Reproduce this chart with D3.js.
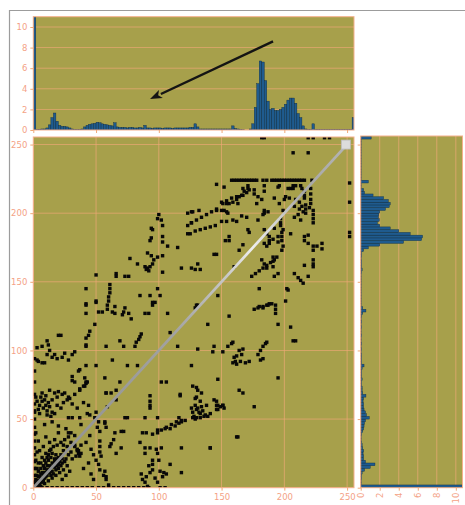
<!DOCTYPE html>
<html>
<head>
<meta charset="utf-8">
<script src="https://cdn.jsdelivr.net/npm/d3@7"></script>
<style>
  body { margin: 0; background: #fff; }
  svg { display: block; }
  text { font-family: "DejaVu Sans", sans-serif; }
</style>
</head>
<body>
<div id="chart"></div>
<script>
// marginal histograms, bins of width 2 (0-1, 2-3, ... 254-255)
const binWidth = 2;
const topHist = [
  11, 0.05, 0.05, 0.1, 0.1, 0.2, 0.5, 1.2, 1.65, 0.85, 0.45, 0.35, 0.35, 0.3, 0.2, 0.1,
  0.05, 0.05, 0.05, 0.1, 0.3, 0.45, 0.55, 0.6, 0.65, 0.75, 0.7, 0.6, 0.55, 0.5, 0.45, 0.4,
  0.7, 0.3, 0.25, 0.25, 0.25, 0.2, 0.25, 0.25, 0.2, 0.2, 0.25, 0.2, 0.45, 0.2, 0.2, 0.15,
  0.2, 0.2, 0.2, 0.15, 0.2, 0.2, 0.2, 0.15, 0.2, 0.2, 0.2, 0.2, 0.2, 0.2, 0.25, 0.25,
  0.6, 0.3, 0.1, 0.1, 0.1, 0.1, 0.1, 0.1, 0.1, 0.1, 0.1, 0.1, 0.1, 0.1, 0.1, 0.4,
  0.15, 0.1, 0.05, 0.02, 0, 0, 0.1, 0.6, 2.2, 4.5, 6.7, 6.6, 4.8, 2.8, 2.0, 2.1,
  1.9, 1.9, 2.0, 2.2, 2.5, 2.9, 3.1, 3.1, 2.6, 1.6, 1.2, 0.4, 0.1, 0.05, 0.05, 0.6,
  0.05, 0.05, 0.05, 0.05, 0.05, 0.05, 0.05, 0.05, 0.05, 0.05, 0.05, 0.05, 0.05, 0.05, 0.05, 1.2
];
const sideHist = [
  11, 0.05, 0.05, 0.1, 0.1, 0.15, 0.4, 1.0, 1.5, 0.5, 0.3, 0.3, 0.25, 0.3, 0.2, 0.15,
  0.1, 0.05, 0.05, 0.1, 0.2, 0.3, 0.35, 0.4, 0.5, 0.9, 0.6, 0.5, 0.35, 0.3, 0.3, 0.25,
  0.3, 0.55, 0.2, 0.15, 0.15, 0.1, 0.1, 0.15, 0.1, 0.1, 0.1, 0.15, 0.35, 0.1, 0.1, 0.1,
  0.1, 0.05, 0.1, 0.05, 0.1, 0.05, 0.05, 0.1, 0.05, 0.05, 0.1, 0.05, 0.1, 0.05, 0.1, 0.2,
  0.55, 0.2, 0.05, 0.05, 0.05, 0.05, 0.05, 0.05, 0.05, 0.05, 0.05, 0.05, 0.05, 0.05, 0.1, 0.15,
  0.1, 0.1, 0.1, 0.05, 0.1, 0.1, 0.3, 0.8, 2.0, 4.5, 6.4, 6.5, 5.2, 4.0, 3.1, 2.0,
  1.75, 1.95, 1.85, 1.9, 2.0, 2.6, 3.0, 3.1, 2.9, 2.4, 1.3, 0.4, 0.3, 0.05, 0.05, 0.8,
  0.05, 0.05, 0.05, 0.05, 0.05, 0.05, 0.05, 0.05, 0.05, 0.05, 0.05, 0.05, 0.05, 0.05, 0.05, 1.1
];

const mainTicks = [0, 50, 100, 150, 200, 250];
const histTicks = [0, 2, 4, 6, 8, 10];

const diagonal = [[0, 0], [249, 249]];
const endMarker = [249, 250];
const arrowFrom = [191, 8.6];
const arrowTo = [93, 3.0];

// scatter points, grouped by the area of the plot they sit in
const originCluster = [
  [1,1],[2,3],[3,2],[4,5],[5,3],[6,6],[5,8],[7,4],[8,9],[9,7],[10,11],[11,9],[12,13],[13,11],[14,15],[15,12],
  [16,17],[17,15],[18,19],[19,16],[3,9],[4,12],[6,14],[8,16],[10,18],[12,20],[14,22],[6,1],[9,3],[12,5],[15,7],
  [18,9],[21,11],[24,13],[2,6],[7,11],[9,14],[11,16],[16,10],[20,14],[22,16],[25,19],[20,22],[22,24],[26,21],
  [28,24],[30,26],[24,27],[18,24],[27,30],[30,33],[33,30],[35,28],[36,25],[34,23],[31,21],[38,31],[4,18],[7,22],
  [3,26],[10,25],[14,28],[16,30],[19,31],[22,33],[25,35],[17,35],[13,33],[28,37],[20,40],[30,40],[33,38],[26,43],
  [10,37],[4,34],[2,40],[28,40],[33,31],[36,27],[38,25],[37,23],[27,16],[29,12],[23,6],[26,9],[1,14],[2,20],
  [5,27],[8,30],[12,24],[17,21],[24,31],[35,27],[1,4],[3,5],[5,1],[7,7],[9,11],[11,13],[13,16],[15,18],[17,19],
  [19,21],[21,19],[23,21],[8,5],[10,8],[14,9],[18,13],[20,17],[23,18],[6,10],[4,8],[3,14],[6,18],[9,20],[11,22],
  [15,25],[13,27]
];
const leftColumn = [
  [1,4],[1,9],[1,14],[1,19],[1,24],[1,29],[1,34],[1,39],[1,44],[1,50],[1,56],[1,61],[1,68],[1,77],[1,85],[1,94]
];
const bottomRow = [
  [3,0],[7,0],[11,0],[15,0],[19,0],[23,0],[27,0],[31,0],[35,0],[39,0],[43,0],[47,0],[52,0],[56,0],[60,0],
  [64,0],[68,0],[72,0],[76,0],[80,0],[84,0],[88,0],[92,0],[101,0],[105,0]
];
const lowerLeft = [
  [3,63],[7,63],[9,64],[12,62],[13,59],[8,58],[4,57],[1,55],[5,54],[11,53],[15,55],[17,54],[13,71],[17,69],
  [20,70],[23,68],[25,69],[28,66],[27,64],[29,65],[31,61],[33,68],[37,71],[40,74],[42,76],[43,77],[44,60],
  [43,54],[45,53],[28,51],[31,51],[37,51],[49,51],[52,48],[51,44],[53,41],[58,69],[62,69],[57,47],[58,44],
  [65,40],[64,35],[61,30],[53,34],[53,30],[53,26],[54,23],[50,20],[52,17],[53,13],[56,9],[58,6],[60,2],
  [57,12],[58,8],[66,64],[59,59],[50,55],[57,48],[66,25],[62,32],[6,66],[10,67],[19,60],[22,58],[24,62],
  [15,48],[20,45],[9,46],[40,62],[35,58],[38,46],[45,38],[42,33],[46,28],[48,24],[44,18],[40,14],[46,10],[48,6],
  [5,60],[10,60],[15,64],[19,66],[2,66],[7,69],[11,56],[14,52]
];
const middleLeft = [
  [42,133],[42,127],[50,135],[52,128],[55,128],[59,130],[63,128],[65,127],[60,136],[73,131],[72,128],[71,126],
  [76,127],[78,123],[89,127],[92,127],[95,133],[97,135],[107,127],[49,119],[45,114],[44,111],[42,109],[22,111],
  [20,111],[42,104],[42,103],[58,103],[69,107],[72,103],[81,103],[84,108],[85,110],[86,112],[82,106],[109,113],
  [115,103],[11,107],[12,104],[7,103],[13,100],[3,102],[3,93],[4,92],[7,91],[9,91],[11,97],[15,95],[17,97],
  [19,94],[23,95],[28,93],[31,97],[33,99],[25,98],[50,89],[63,93],[42,89],[75,89],[83,89],[37,86],[36,85],
  [31,81],[31,78],[33,77],[41,80],[42,77],[41,74],[37,72],[57,80],[69,77],[58,69],[66,71],[102,77],[106,77],[117,68]
];
const upperMiddle = [
  [100,199],[99,196],[102,195],[103,191],[94,189],[95,188],[94,182],[93,180],[103,183],[103,179],[107,176],
  [115,175],[91,171],[94,169],[103,169],[96,166],[99,168],[77,167],[83,163],[89,161],[91,160],[93,161],[95,163],
  [103,157],[118,160],[126,160],[126,201],[123,191],[123,185],[126,193],[50,155],[66,156],[66,154],[73,154],
  [76,154],[42,145],[61,148],[61,145],[61,142],[60,139],[59,133],[50,136],[42,134],[85,140],[93,140],[95,135],
  [99,145],[101,140],[65,132],[90,159],[92,158]
];
const lowerMiddle = [
  [93,67],[93,63],[93,60],[93,58],[117,67],[73,51],[75,51],[89,51],[99,51],[116,51],[118,48],[70,41],[72,41],
  [95,39],[99,40],[102,42],[105,43],[109,43],[113,45],[116,47],[85,33],[70,29],[89,29],[89,25],[93,29],[98,28],
  [99,25],[102,29],[118,29],[141,29],[162,37],[95,20],[95,17],[95,13],[93,11],[90,8],[89,4],[91,1],[101,12],
  [103,8],[106,10],[104,11],[109,17],[118,11],[97,7],[87,6],[92,16],[86,10],[99,4],[100,20],
  [127,74],[131,71],[130,66],[129,60],[130,57],[133,54],[137,53],[141,54],[134,59],[138,60],[144,64],[146,60],
  [149,59],[151,60],[147,57],[114,48],[118,49],[106,44],[110,46],[99,42],[90,40],[87,40]
];
const rightMiddle = [
  [130,133],[129,131],[176,130],[180,132],[183,131],[186,133],[188,134],[193,133],[193,130],[193,127],[201,136],
  [156,125],[139,119],[195,119],[205,117],[207,107],[209,107],[131,101],[144,103],[143,99],[151,99],[155,103],
  [158,105],[159,106],[160,95],[162,96],[161,92],[159,91],[162,90],[165,92],[166,97],[164,100],[167,101],
  [169,91],[172,92],[179,97],[181,100],[183,103],[185,105],[186,106],[181,93],[183,94],[126,89],[147,79],
  [195,80],[130,73],[134,69],[164,71],[167,69],[129,65],[133,63],[146,63],[147,60],[151,60],[152,58],[146,57],
  [126,58],[127,55],[128,52],[130,51],[133,51],[136,52],[139,52],[127,51],[129,50],[132,55],[135,56],[131,58],
  [176,59],[163,37],[141,29],[121,49]
];
const topRow = [
  [182,255],[184,255],[219,255],[223,255],[232,255],[236,255],[207,244],[219,244]
];
const upperBand = [
  [158,224],[160,224],[162,224],[164,224],[166,224],[168,224],[170,224],[172,224],[174,224],[176,224],[178,224],
  [183,224],[186,224],[190,224],[192,224],[194,224],[196,224],[198,224],[200,224],[202,224],[204,224],[206,224],
  [208,224],[210,224],[212,224],[214,224],[216,224],[222,224],
  [146,221],[152,219],[171,220],[184,220],[196,220],[207,220],[209,220],[213,220],[168,216],[171,218],[176,217],
  [184,216],[167,218],[195,219],[203,218],[205,218],[214,218],[221,218]
];
const upperRight = [
  [156,207],[159,208],[162,210],[164,212],[167,213],[170,215],[172,217],[150,208],[154,209],[158,211],[162,212],
  [166,213],[126,193],[130,195],[134,197],[138,199],[142,201],[146,203],[151,207],[154,207],[163,207],[150,202],
  [154,201],[155,200],[146,202],[125,185],[129,187],[133,188],[137,189],[141,190],[145,191],[123,200],[127,201],
  [132,202],[176,214],[179,212],[182,210],[192,211],[196,207],[201,212],[204,211],[209,210],[212,208],[214,205],
  [216,216],[216,213],[216,211],[221,214],[221,210],[221,207],[217,206],[217,203],[217,200],[223,202],[223,199],
  [223,196],[223,193],[184,202],[184,200],[187,201],[183,199],[179,195],[150,194],[154,194],[159,195],[162,194],
  [171,188],[172,186],[197,196],[197,193],[197,191],[198,186],[198,183],[198,180],[199,188],[192,189],[208,197],
  [213,195],[211,199],[156,183],[156,180],[153,180],[188,183],[188,180],[188,178],[191,181],[195,179],[184,178],
  [186,176],[167,177],[164,173],[198,173],[199,176],[216,183],[216,180],[219,184],[223,176],[223,173],[230,178],
  [182,166],[184,163],[191,168],[191,165],[191,161],[194,168],[186,160],[216,162],[223,166],[223,163],[223,161],
  [146,170],[144,170],[131,163],[133,159],[129,159],[160,161],[174,154],[177,156],[180,158],[183,160],[186,162],
  [189,164],[192,166],[192,154],[195,156],[208,156],[211,153],[213,151],[215,149],[219,154],[202,145],[203,144],
  [180,145],[179,131],[183,132],[187,133],[190,134],[147,140],[131,133],[252,222],[252,208],[252,186],[252,183],
  [230,174],[226,176],[219,178],[166,198],[170,197],[178,207],[195,183],[152,202],[205,185],[200,210],[207,218],
  [184,188],[186,185],[199,202],[208,205],[212,203],[215,201],[220,204]
];

const points = [].concat(originCluster, leftColumn, bottomRow, lowerLeft, middleLeft, upperMiddle,
  lowerMiddle, rightMiddle, topRow, upperBand, upperRight);

const W = 465, H = 505;
const olive = "#a7a04b";
const gridColor = "#f0a878";
const labelColor = "#f4a286";
const barFill = "#1f5b8e";
const barStroke = "#0c2b48";

const svg = d3.select("#chart").append("svg").attr("width", W).attr("height", H);
const defs = svg.append("defs");

// scales
const x = d3.scaleLinear().domain([0, 255.5]).range([33.3, 354]);
const y = d3.scaleLinear().domain([0, 255.5]).range([487.7, 137]);
const topY = d3.scaleLinear().domain([0, 11]).range([130, 16.7]);
const sideX = d3.scaleLinear().domain([0, 10.7]).range([360.7, 462.5]);

// figure frame
svg.append("path")
  .attr("d", "M9.5,505 V10.5 H465")
  .attr("fill", "none").attr("stroke", "#9c9c9c").attr("stroke-width", 1.2);

function panel(id, x0, y0, x1, y1) {
  defs.append("clipPath").attr("id", id)
    .append("rect").attr("x", x0).attr("y", y0).attr("width", x1 - x0).attr("height", y1 - y0);
  svg.append("rect").attr("x", x0).attr("y", y0).attr("width", x1 - x0).attr("height", y1 - y0)
    .attr("fill", olive);
  return svg.append("g").attr("clip-path", "url(#" + id + ")");
}
function border(x0, y0, x1, y1) {
  svg.append("rect").attr("x", x0).attr("y", y0).attr("width", x1 - x0).attr("height", y1 - y0)
    .attr("fill", "none").attr("stroke", "#f6b08c").attr("stroke-width", 1);
}
function styleAxis(g) {
  g.select(".domain").remove();
  g.selectAll(".tick line").attr("stroke", gridColor);
  g.selectAll(".tick text").attr("fill", labelColor).style("font-size", "8.5px");
}

// ---- top histogram
const topG = panel("clipTop", x(0), topY(11), x(255.5), topY(0));
topG.selectAll("line.grid").data(histTicks).join("line")
  .attr("x1", x(0)).attr("x2", x(255.5)).attr("y1", d => topY(d)).attr("y2", d => topY(d))
  .attr("stroke", gridColor).attr("stroke-width", 0.8).attr("opacity", 0.85);
topG.selectAll("rect.bar").data(topHist).join("rect")
  .attr("x", (d, i) => x(i * binWidth))
  .attr("width", (d, i) => x((i + 1) * binWidth) - x(i * binWidth))
  .attr("y", d => topY(d))
  .attr("height", d => topY(0) - topY(d))
  .attr("fill", barFill).attr("stroke", barStroke).attr("stroke-width", 0.4);

// arrow annotation
const ax0 = x(arrowFrom[0]), ay0 = topY(arrowFrom[1]);
const ax1 = x(arrowTo[0]), ay1 = topY(arrowTo[1]);
const ang = Math.atan2(ay1 - ay0, ax1 - ax0);
const headLen = 12, headW = 4.5;
const bx = ax1 - headLen * Math.cos(ang), by = ay1 - headLen * Math.sin(ang);
svg.append("line").attr("x1", ax0).attr("y1", ay0).attr("x2", bx).attr("y2", by)
  .attr("stroke", "#141414").attr("stroke-width", 2.4);
svg.append("path")
  .attr("d", d3.line()([
    [ax1, ay1],
    [bx + headW * Math.sin(ang), by - headW * Math.cos(ang)],
    [bx + 3 * Math.cos(ang), by + 3 * Math.sin(ang)],
    [bx - headW * Math.sin(ang), by + headW * Math.cos(ang)]
  ]) + "Z")
  .attr("fill", "#141414");
border(x(0), topY(11), x(255.5), topY(0));

svg.append("g").attr("transform", "translate(" + x(0) + ",0)")
  .call(d3.axisLeft(topY).tickValues(histTicks).tickSize(3))
  .call(styleAxis);
svg.append("g").attr("transform", "translate(0," + topY(0) + ")")
  .call(d3.axisBottom(x).tickValues(mainTicks).tickSize(3).tickFormat(""))
  .call(styleAxis);

// ---- main scatter
const mainG = panel("clipMain", x(0), y(255.5), x(255.5), y(0));
mainG.selectAll("line.gx").data(mainTicks).join("line")
  .attr("x1", d => x(d)).attr("x2", d => x(d)).attr("y1", y(0)).attr("y2", y(255.5))
  .attr("stroke", gridColor).attr("stroke-width", 0.8).attr("opacity", 0.85);
mainG.selectAll("line.gy").data(mainTicks).join("line")
  .attr("x1", x(0)).attr("x2", x(255.5)).attr("y1", d => y(d)).attr("y2", d => y(d))
  .attr("stroke", gridColor).attr("stroke-width", 0.8).attr("opacity", 0.85);

const s = 3.4;
mainG.selectAll("rect.pt").data(points).join("rect")
  .attr("x", d => x(d[0]) - s / 2).attr("y", d => y(d[1]) - s / 2)
  .attr("width", s).attr("height", s)
  .attr("fill", "#080808");

const grad = defs.append("linearGradient").attr("id", "diagGrad")
  .attr("gradientUnits", "userSpaceOnUse")
  .attr("x1", x(diagonal[0][0])).attr("y1", y(diagonal[0][1]))
  .attr("x2", x(diagonal[1][0])).attr("y2", y(diagonal[1][1]));
[[0, "#8e8e8e"], [0.45, "#a2a2a2"], [0.62, "#c8c8c8"], [0.7, "#eeeeee"], [0.78, "#d2d2d2"],
 [0.86, "#a6a6a6"], [1, "#b4b4b4"]].forEach(([o, c]) =>
  grad.append("stop").attr("offset", o).attr("stop-color", c));
mainG.append("path")
  .attr("d", d3.line().x(d => x(d[0])).y(d => y(d[1]))(diagonal))
  .attr("fill", "none").attr("stroke", "url(#diagGrad)").attr("stroke-width", 2.8);
mainG.append("rect")
  .attr("x", x(endMarker[0]) - 4.5).attr("y", y(endMarker[1]) - 4.5)
  .attr("width", 9).attr("height", 9)
  .attr("fill", "#dcdcdc").attr("stroke", "#bcbcbc").attr("stroke-width", 0.8);
border(x(0), y(255.5), x(255.5), y(0));

svg.append("g").attr("transform", "translate(" + x(0) + ",0)")
  .call(d3.axisLeft(y).tickValues(mainTicks).tickSize(3))
  .call(styleAxis);
svg.append("g").attr("transform", "translate(0," + y(0) + ")")
  .call(d3.axisBottom(x).tickValues(mainTicks).tickSize(3))
  .call(styleAxis);

// ---- side histogram
const sideG = panel("clipSide", sideX(0), y(255.5) - 1, sideX(10.7), y(0));
sideG.selectAll("line.grid").data(histTicks).join("line")
  .attr("x1", d => sideX(d)).attr("x2", d => sideX(d)).attr("y1", y(0)).attr("y2", y(255.5) - 1)
  .attr("stroke", gridColor).attr("stroke-width", 0.8).attr("opacity", 0.85);
sideG.selectAll("rect.bar").data(sideHist).join("rect")
  .attr("y", (d, i) => y((i + 1) * binWidth))
  .attr("height", (d, i) => y(i * binWidth) - y((i + 1) * binWidth))
  .attr("x", sideX(0))
  .attr("width", d => sideX(d) - sideX(0))
  .attr("fill", barFill).attr("stroke", barStroke).attr("stroke-width", 0.4);
border(sideX(0), y(255.5) - 1, sideX(10.7), y(0));

svg.append("g").attr("transform", "translate(0," + y(0) + ")")
  .call(d3.axisBottom(sideX).tickValues(histTicks).tickSize(3))
  .call(styleAxis)
  .call(g => g.selectAll(".tick text")
    .attr("transform", "rotate(-90)")
    .attr("x", -5).attr("y", 0).attr("dy", "0.35em")
    .attr("text-anchor", "end"));
svg.append("g").attr("transform", "translate(" + sideX(0) + ",0)")
  .call(d3.axisLeft(y).tickValues(mainTicks).tickSize(3).tickFormat(""))
  .call(styleAxis);
</script>
</body>
</html>
